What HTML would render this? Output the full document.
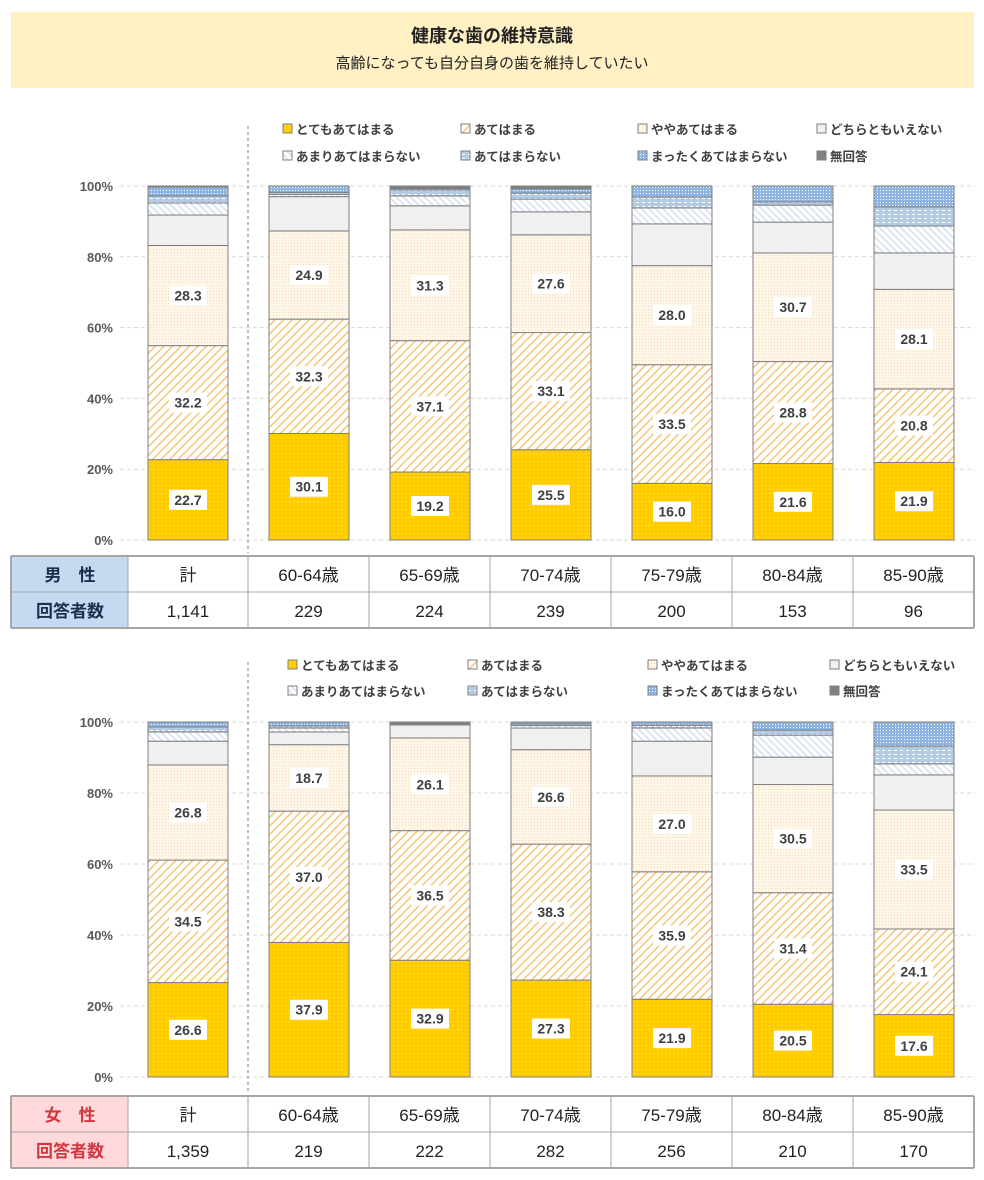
<!DOCTYPE html>
<html><head><meta charset="utf-8">
<style>
html,body{margin:0;padding:0;background:#fff;}
svg{display:block;font-family:"Liberation Sans","Noto Sans CJK JP",sans-serif;}
</style></head>
<body>
<svg id="chart" width="984" height="1180" viewBox="0 0 984 1180" xmlns="http://www.w3.org/2000/svg">
<defs>
 <pattern id="p0" width="4" height="4" patternUnits="userSpaceOnUse"><rect width="4" height="4" fill="#FFCC00"/><rect x="1" y="1" width="1" height="1" fill="#FFE680"/></pattern>
 <pattern id="p1" width="6" height="6" patternUnits="userSpaceOnUse" patternTransform="rotate(45)"><rect width="6" height="6" fill="#fff"/><rect width="1.5" height="6" fill="#F5C57A"/></pattern>
 <pattern id="p2" width="3" height="3" patternUnits="userSpaceOnUse"><rect width="3" height="3" fill="#FFF6EA"/><rect width="1" height="1" fill="#F9D9B0"/></pattern>
 <pattern id="p3" width="4" height="4" patternUnits="userSpaceOnUse"><rect width="4" height="4" fill="#F0F0F0"/></pattern>
 <pattern id="p4" width="5" height="5" patternUnits="userSpaceOnUse" patternTransform="rotate(-45)"><rect width="5" height="5" fill="#fff"/><rect width="2" height="5" fill="#DCE6F2"/></pattern>
 <pattern id="p5" width="6" height="4" patternUnits="userSpaceOnUse"><rect width="6" height="4" fill="#B4CBE8"/><rect x="0" y="2" width="3" height="1" fill="#fff"/></pattern>
 <pattern id="p6" width="3" height="3" patternUnits="userSpaceOnUse"><rect width="3" height="3" fill="#8DB4E2"/><rect x="1" y="1" width="1" height="1" fill="#fff"/></pattern>
</defs>
<rect x="11" y="12" width="963" height="76" fill="#FFF1C4"/>
<text x="492" y="42" text-anchor="middle" font-size="18" font-weight="bold" fill="#222">健康な歯の維持意識</text>
<text x="492" y="68" text-anchor="middle" font-size="15" fill="#222">高齢になっても自分自身の歯を維持していたい</text>
<g id="plots"></g>
</svg>
<script>
const categories = ["計","60-64歳","65-69歳","70-74歳","75-79歳","80-84歳","85-90歳"];
const seriesNames = ["とてもあてはまる","あてはまる","ややあてはまる","どちらともいえない","あまりあてはまらない","あてはまらない","まったくあてはまらない","無回答"];
const yTicks = [0,20,40,60,80,100];
const yTickLabels = ["0%","20%","40%","60%","80%","100%"];
// male
const maleS0 = [22.7,30.1,19.2,25.5,16.0,21.6,21.9];
const maleS1 = [32.2,32.3,37.1,33.1,33.5,28.8,20.8];
const maleS2 = [28.3,24.9,31.3,27.6,28.0,30.7,28.1];
const maleS3 = [8.6,9.7,6.8,6.5,11.8,8.7,10.3];
const maleS4 = [3.4,0.6,2.8,3.6,4.5,4.8,7.6];
const maleS5 = [2.0,0.6,1.7,1.7,3.1,0.9,5.4];
const maleS6 = [2.5,1.8,0.4,1.2,3.1,4.5,5.9];
const maleS7 = [0.3,0.0,0.7,0.8,0.0,0.0,0.0];
const maleN = ["1,141","229","224","239","200","153","96"];
// female
const femS0 = [26.6,37.9,32.9,27.3,21.9,20.5,17.6];
const femS1 = [34.5,37.0,36.5,38.3,35.9,31.4,24.1];
const femS2 = [26.8,18.7,26.1,26.6,27.0,30.5,33.5];
const femS3 = [6.7,3.6,3.7,6.1,9.8,7.7,9.9];
const femS4 = [2.6,1.1,0.3,0.7,3.7,6.2,3.1];
const femS5 = [1.4,0.6,0.3,0.5,0.8,1.4,5.0];
const femS6 = [1.4,1.1,0.2,0.5,0.9,2.3,6.8];
const femS7 = [0.0,0.0,0.0,0.0,0.0,0.0,0.0];
const femN = ["1,359","219","222","282","256","210","170"];

const NS="http://www.w3.org/2000/svg";
const root=document.getElementById('plots');
function mk(tag,attrs,parent){const e=document.createElementNS(NS,tag);for(const k in attrs)e.setAttribute(k,attrs[k]);(parent||root).appendChild(e);return e;}
const fills=["url(#p0)","url(#p1)","url(#p2)","url(#p3)","url(#p4)","url(#p5)","url(#p6)","#808080"];
const colEdges=[11,128,248,369,490,611,732,853,974];

function panel(top,bottom,series,ns,sexLabel,hdrFill,hdrColor,legY,legX,tblY,prefix){
  const g=mk('g',{});
  
  
  const y=v=>bottom-(bottom-top)*v/100;
  const xc=i=>188+i*121;
  yTicks.forEach((t,k)=>{
    const ln=mk('line',{x1:120,x2:975,y1:y(t),y2:y(t),stroke:'#D9D9D9','stroke-dasharray':'4,3'},g);
    
    
    const tx=mk('text',{x:113,y:y(t)+5,'text-anchor':'end','font-size':13,'font-weight':'bold',fill:'#595959'},g);
    tx.textContent=yTickLabels[k];
    
    
  });
  const dl=mk('line',{x1:248,x2:248,y1:legY[0]-8,y2:tblY-3,stroke:'#808080','stroke-dasharray':'3,3'},g);
  
  
  categories.forEach((c,i)=>{
    let acc=0;
    series.forEach((s,j)=>{
      const v=s[i]; if(v<=0){return;}
      const r=mk('rect',{x:xc(i)-40,y:y(acc+v),width:80,height:y(acc)-y(acc+v),fill:fills[j],stroke:'#7F7F7F','stroke-width':1},g);
      
      
      if(j<3){
        const cy=(y(acc)+y(acc+v))/2;
        const lb=mk('rect',{x:xc(i)-19,y:cy-10,width:38,height:20,fill:'#fff'},g);
        
        
        const t=mk('text',{x:xc(i),y:cy+5,'text-anchor':'middle','font-size':14,'font-weight':'bold',fill:'#404040'},g);
        t.textContent=v.toFixed(1);
        
        
      }
      acc+=v;
    });
  });
  seriesNames.forEach((n,j)=>{
    const lx=legX[j%4], ly=legY[Math.floor(j/4)];
    const sq=mk('rect',{x:lx,y:ly-10,width:9,height:9,fill:fills[j],stroke:'#7F7F7F'},g);
    
    
    const t=mk('text',{x:lx+13,y:ly,'font-size':12.5,'font-weight':'bold',fill:'#404040'},g);
    t.textContent=n;
    
    
  });
  const hf=mk('rect',{x:11,y:tblY,width:117,height:72,fill:hdrFill},g);
  
  
  [tblY,tblY+36,tblY+72].forEach(yy=>{const l=mk('line',{x1:11,x2:974,y1:yy,y2:yy,stroke:'#A6A6A6','stroke-width':yy===tblY+36?1:2},g);});
  colEdges.forEach((x,k)=>{const l=mk('line',{x1:x,x2:x,y1:tblY,y2:tblY+72,stroke:'#A6A6A6','stroke-width':(k===0||k===8)?2:1},g);});
  const h1=mk('text',{x:70,y:tblY+25,'text-anchor':'middle','font-size':17,'font-weight':'bold',fill:hdrColor},g);
  h1.textContent=sexLabel;
  
  
  const h2=mk('text',{x:70,y:tblY+61,'text-anchor':'middle','font-size':17,'font-weight':'bold',fill:hdrColor},g);
  h2.textContent='回答者数';
  
  
  categories.forEach((c,i)=>{
    const cx=(colEdges[i+1]+colEdges[i+2])/2;
    const t=mk('text',{x:cx,y:tblY+25,'text-anchor':'middle','font-size':17,fill:'#222'},g);
    t.textContent=c;
    
    
    const t2=mk('text',{x:cx,y:tblY+61,'text-anchor':'middle','font-size':17,fill:'#222'},g);
    t2.textContent=ns[i];
    
    
  });
}
panel(186,540,[maleS0,maleS1,maleS2,maleS3,maleS4,maleS5,maleS6,maleS7],maleN,'男　性','#C5D9F1','#1F2D4D',[134,161],[283,461,638,817],556,'male');
panel(722,1077,[femS0,femS1,femS2,femS3,femS4,femS5,femS6,femS7],femN,'女　性','#FFD9DC','#D0383F',[670,696],[288,468,648,830],1096,'female');
</script>
</body></html>
